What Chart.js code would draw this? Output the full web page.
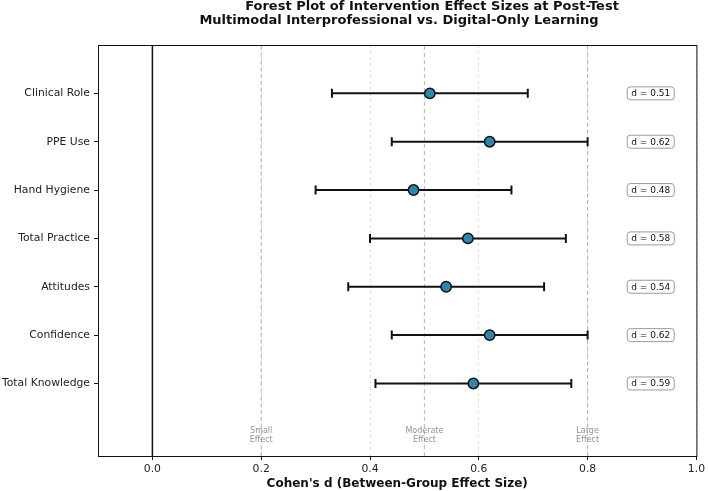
<!DOCTYPE html>
<html>
<head>
<meta charset="utf-8">
<script src="https://cdn.jsdelivr.net/npm/chart.js@4"></script>
<style>
  html, body { margin: 0; padding: 0; background: #fff; }
  #wrap { width: 708px; height: 491px; }
</style>
</head>
<body>
<div id="wrap"><canvas id="c" width="708" height="491"></canvas></div>
<script>
// ===== DATA (bottom -> top, like the plot) =====
const outcomes = ["Total Knowledge", "Confidence", "Attitudes", "Total Practice", "Hand Hygiene", "PPE Use", "Clinical Role"];
const effectD  = [0.59, 0.62, 0.54, 0.58, 0.48, 0.62, 0.51];
const ciLower  = [0.41, 0.44, 0.36, 0.40, 0.30, 0.44, 0.33];
const ciUpper  = [0.77, 0.80, 0.72, 0.76, 0.66, 0.80, 0.69];
const xTicks   = [0.0, 0.2, 0.4, 0.6, 0.8, 1.0];
const refLines = [0.2, 0.5, 0.8];
const refNames = ["Small\nEffect", "Moderate\nEffect", "Large\nEffect"];

const FONT = "'DejaVu Sans', sans-serif";
const Y_MIN = -1.5, Y_MAX = 7;
const $ = (id) => document.getElementById(id);

// ===== DATASETS =====
const datasets = [];

// effect points
datasets.push({
  type: "scatter",
  data: effectD.map((d, i) => ({ x: d, y: i })),
  pointRadius: 5.2,
  pointBackgroundColor: "#2E86AB",
  pointBorderColor: "#111",
  pointBorderWidth: 1.5,
  order: 0
});

// CI bars with caps
outcomes.forEach((name, i) => {
  datasets.push({
    type: "line",
    data: [{ x: ciLower[i], y: i }, { x: ciUpper[i], y: i }],
    borderColor: "#111",
    borderWidth: 2,
    pointStyle: "line",
    pointRotation: 90,
    pointRadius: 4.5,
    pointBorderWidth: 2,
    pointBorderColor: "#111",
    order: 1
  });
});

// reference lines
refLines.forEach((v) => {
  datasets.push({
    type: "line",
    data: [{ x: v, y: Y_MIN }, { x: v, y: Y_MAX }],
    borderColor: "rgba(128,128,128,0.55)",
    borderWidth: 1,
    borderDash: [4, 3],
    pointRadius: 0,
    order: 2
  });
});

// zero line
datasets.push({
  type: "line",
  data: [{ x: 0, y: Y_MIN }, { x: 0, y: Y_MAX }],
  borderColor: "#111",
  borderWidth: 1.5,
  pointRadius: 0,
  order: 2
});

// ===== PLUGINS =====
const extras = {
  id: "extras",
  afterDatasetsDraw(chart) {
    const ctx = chart.ctx, xs = chart.scales.x, ys = chart.scales.y, a = chart.chartArea;
    ctx.save();
    // effect-size labels near bottom
    ctx.font = "8px " + FONT;
    ctx.fillStyle = "rgba(110,110,110,0.75)";
    ctx.textAlign = "center";
    ctx.textBaseline = "middle";
    refLines.forEach((v, k) => {
      const lines = refNames[k].split("\n");
      const px = xs.getPixelForValue(v), py = ys.getPixelForValue(-1.07);
      ctx.fillText(lines[0], px, py - 4.5);
      ctx.fillText(lines[1], px, py + 4.5);
    });
    // d = boxes
    ctx.font = "9px " + FONT;
    effectD.forEach((d, i) => {
      const txt = "d = " + d.toFixed(2);
      const px = xs.getPixelForValue(0.916), py = ys.getPixelForValue(i);
      const w = ctx.measureText(txt).width + 8, h = 13;
      ctx.beginPath();
      ctx.roundRect(px - w / 2, py - h / 2, w, h, 3);
      ctx.fillStyle = "#fff";
      ctx.fill();
      ctx.strokeStyle = "#999";
      ctx.lineWidth = 1;
      ctx.stroke();
      ctx.fillStyle = "#111";
      ctx.fillText(txt, px, py + 0.5);
    });
    // frame
    ctx.strokeStyle = "#111";
    ctx.lineWidth = 1;
    ctx.strokeRect(a.left + 0.5, a.top + 0.5, a.right - a.left, a.bottom - a.top);
    ctx.restore();
  },
  afterDraw(chart) {
    const ctx = chart.ctx;
    ctx.save();
    ctx.font = "bold 13px " + FONT;
    ctx.fillStyle = "#111";
    ctx.textAlign = "center";
    ctx.textBaseline = "middle";
    ctx.fillText("Forest Plot of Intervention Effect Sizes at Post-Test", 432, 7);
    ctx.fillText("Multimodal Interprofessional vs. Digital-Only Learning", 399, 21);
    ctx.restore();
  }
};

// ===== CHART =====
new Chart($("c").getContext("2d"), {
  data: { datasets },
  options: {
    responsive: false,
    animation: false,
    layout: { padding: { top: 45, right: 7, left: 0, bottom: 0 } },
    plugins: { legend: { display: false }, tooltip: { enabled: false } },
    scales: {
      x: {
        type: "linear",
        min: -0.1, max: 1.0,
        afterBuildTicks: (s) => { s.ticks = xTicks.map(v => ({ value: v })); },
        afterFit: (s) => { s.height = 35; },
        border: { display: false, dash: [3, 3] },
        grid: {
          color: "rgba(170,170,170,0.35)",
          lineWidth: 1,
          tickColor: "#111",
          tickLength: 4,
          tickBorderDash: []
        },
        ticks: {
          color: "#222",
          font: { family: FONT, size: 10.8 },
          padding: 3,
          maxRotation: 0,
          callback: (v) => v.toFixed(1)
        },
        title: {
          display: true,
          text: "Cohen's d (Between-Group Effect Size)",
          color: "#111",
          font: { family: FONT, size: 12, weight: "bold" },
          padding: { top: 0, bottom: 0 }
        }
      },
      y: {
        type: "linear",
        min: Y_MIN, max: Y_MAX,
        afterBuildTicks: (s) => { s.ticks = outcomes.map((_, i) => ({ value: i })); },
        afterFit: (s) => { s.width = 98; },
        border: { display: false },
        grid: { drawOnChartArea: false, tickColor: "#111", tickLength: 4 },
        ticks: {
          color: "#222",
          font: { family: FONT, size: 10.8 },
          padding: 4,
          callback: (v) => outcomes[v] || ""
        }
      }
    }
  },
  plugins: [extras]
});
</script>
</body>
</html>
